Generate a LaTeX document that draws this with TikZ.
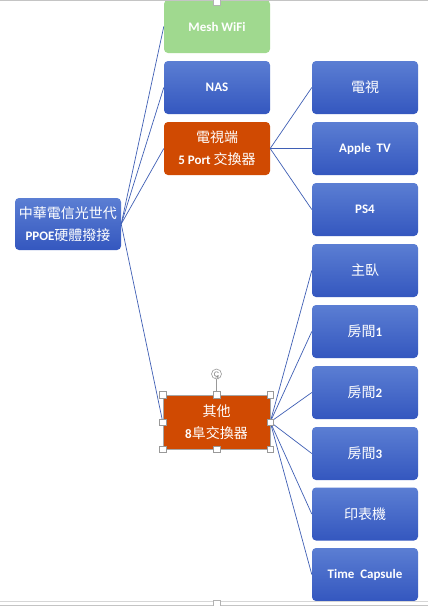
\documentclass[tikz,border=0pt]{standalone}
\usepackage{fontspec}
\setmainfont{Carlito}
\newfontfamily\cjk{Noto Sans CJK TC}
\newcommand{\zh}[1]{{\cjk\mdseries\fontsize{14}{22}\selectfont #1}}
\definecolor{btop}{HTML}{5B7ED3}
\definecolor{bbot}{HTML}{3457BF}
\definecolor{mgreen}{HTML}{A0D98F}
\definecolor{morange}{HTML}{D04A02}
\definecolor{lineblue}{HTML}{3F5FB5}
\definecolor{edgegray}{HTML}{C4C4C4}
\tikzset{
  box/.style={minimum width=106pt, minimum height=53pt, inner sep=0pt, rounded corners=4pt,
    text=white, align=center, font=\fontsize{13}{22}\selectfont\bfseries},
  bluebox/.style={box, top color=btop, bottom color=bbot, draw=none},
  greenbox/.style={box, fill=mgreen},
  orangebox/.style={box, fill=morange},
  link/.style={draw=lineblue, line width=0.7pt},
  handle/.style={draw=gray!80, fill=white, line width=0.5pt, minimum size=6.5pt, inner sep=0pt},
}
\begin{document}
\begin{tikzpicture}[x=1pt,y=-1pt]
\useasboundingbox (0,0) rectangle (428,606);
\fill[white] (0,0) rectangle (428,606);

% left and middle column
\node[bluebox, minimum height=52pt] (root) at (68,224) {\zh{中華電信光世代}\\PPOE\zh{硬體撥接}};
\node[greenbox] (mesh) at (217,26.5) {Mesh WiFi};
\node[bluebox] (nas) at (217,87.5) {NAS};
\node[orangebox] (tvsw) at (217,148.5) {\zh{電視端}\\5 Port \zh{交換器}};
\node[orangebox, rounded corners=0pt, minimum width=107pt, minimum height=54pt, draw=gray!70, line width=0.5pt] (other) at (216.5,422) {\zh{其他}\\8\zh{阜交換器}};

% right column
\node[bluebox] (tv) at (365,87.5) {\zh{電視}};
\node[bluebox] (atv) at (365,148.5) {Apple\ \ TV};
\node[bluebox] (ps4) at (365,209.5) {PS4};
\node[bluebox] (master) at (365,270.5) {\zh{主臥}};
\node[bluebox] (r1) at (365,331.5) {\zh{房間}1};
\node[bluebox] (r2) at (365,392.5) {\zh{房間}2};
\node[bluebox] (r3) at (365,453.5) {\zh{房間}3};
\node[bluebox] (prn) at (365,514) {\zh{印表機}};
\node[bluebox] (tc) at (365,574.5) {Time\ \ Capsule};

% connectors
\foreach \t in {mesh,nas,tvsw,other} \draw[link] (root.east) -- (\t.west);
\foreach \t in {tv,atv,ps4} \draw[link] (tvsw.east) -- (\t.west);
\foreach \t in {master,r1,r2,r3,prn,tc} \draw[link] (other.east) -- (\t.west);

% selection handles
\coordinate (rot) at (216.5,374);
\draw[gray!80, line width=0.5pt] (rot) -- (other.north);
\draw[gray!80, fill=white, line width=0.6pt] (rot) circle (5pt);
\draw[gray!90, line width=0.6pt, ->, >=stealth] ([shift={(30:2.3pt)}]rot) arc[start angle=30, end angle=330, radius=2.3pt];
\foreach \a in {north west,north,north east,west,east,south west,south,south east}
  \node[handle] at (other.\a) {};

% slide edges
\draw[edgegray, line width=1pt] (0,0.8) -- (428,0.8);
\draw[edgegray!70, line width=0.8pt] (0,601.5) -- (428,601.5);
\draw[edgegray, line width=1pt] (0,605) -- (428,605);
\node[handle, draw=gray!60] at (216.5,1.5) {};
\node[handle, draw=gray!60] at (216.5,603) {};
\end{tikzpicture}
\end{document}
